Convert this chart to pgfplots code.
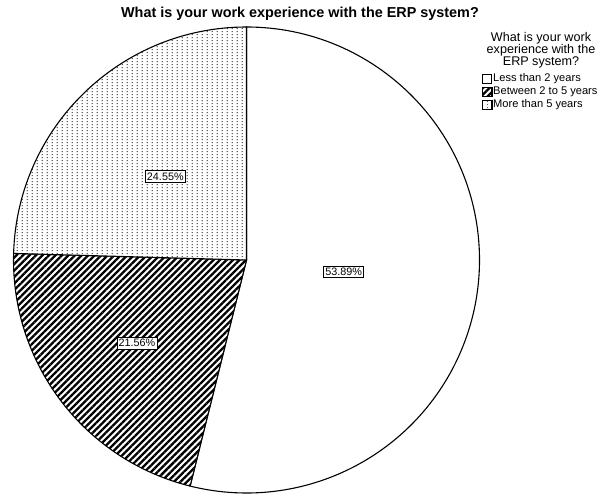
\documentclass[border=0pt]{standalone}
\usepackage{pgfplots}
\pgfplotsset{compat=1.18}
\usepackage{pgfplotstable}
\usepackage{fontspec}
\setmainfont{Liberation Sans}
\usetikzlibrary{patterns,patterns.meta}

% sparse grey dots, SPSS style
\pgfdeclarepatternformonly{spssdots}{\pgfpointorigin}{\pgfpoint{5pt}{3.1pt}}{\pgfpoint{5pt}{3.1pt}}%
  {\pgfpathrectangle{\pgfpoint{2pt}{1pt}}{\pgfpoint{1.3pt}{1.3pt}}\pgfusepath{fill}}

\tikzset{
  slice0/.style={fill=white},
  slice1/.style={preaction={fill=white}, pattern={Lines[angle=45,distance=4.6pt,line width=2.3pt]}},
  slice2/.style={preaction={fill=white}, pattern=spssdots, pattern color=black!62},
}

% value = percent, lab = label radius as fraction of pie radius
\pgfplotstableread{
label value lab
{Less than 2 years} 53.89 0.42
{Between 2 to 5 years} 21.56 0.59
{More than 5 years} 24.55 0.50
}\piedata

\begin{document}
\begin{tikzpicture}
\path[use as bounding box] (0,0) rectangle (601pt,493pt);
\begin{axis}[
    at={(0,0)}, anchor=south west,
    scale only axis,
    width=601pt, height=493pt,
    xmin=0, xmax=601, ymin=0, ymax=493,
    hide axis,
    clip=false,
    legend style={at={(axis cs:481.7,420)}, anchor=north west, draw=none, fill=none,
      font=\fontsize{11.1}{12}\selectfont, inner sep=0pt, row sep=1.8pt,
      nodes={inner xsep=1pt, inner ysep=0.5pt, text height=8pt, text depth=2.2pt},
      cells={anchor=west}},
    legend cell align=left,
  ]
  \def\cumul{0}
  \pgfplotsinvokeforeach{0,1,2}{
    \pgfplotstablegetelem{#1}{value}\of\piedata \let\pval\pgfplotsretval
    \pgfplotstablegetelem{#1}{lab}\of\piedata \let\plab\pgfplotsretval
    \pgfmathsetmacro\sa{90-3.6*\cumul}
    \pgfmathsetmacro\sb{90-3.6*(\cumul+\pval)}
    \pgfmathsetmacro\smid{(\sa+\sb)/2}
    \pgfmathsetmacro\lx{246.5+\plab*233*cos(\smid)}
    \pgfmathsetmacro\ly{233+\plab*233*sin(\smid)}
    \edef\doslice{%
      \noexpand\draw[slice#1, line width=1.1pt, draw=black]
        (axis cs:246.5,233) -- ++(\sa:233pt) arc[start angle=\sa, end angle=\sb, radius=233pt] -- cycle;
    }\doslice
    \edef\dolabel{%
      \noexpand\node[draw, fill=white, line width=0.8pt, inner xsep=1.6pt, inner ysep=2pt,
        font=\noexpand\fontsize{10.8}{12}\noexpand\selectfont]
        at (axis cs:\lx,\ly) {\pval\noexpand\%};
    }\dolabel
    \pgfmathsetmacro\newc{\cumul+\pval}\xdef\cumul{\newc}
  }

  \addlegendimage{legend image code/.code={\draw[slice0, line width=0.8pt] (0pt,-4.5pt) rectangle (9.5pt,4.5pt);}}
  \addlegendentry{Less than 2 years}
  \addlegendimage{legend image code/.code={\draw[slice1, line width=0.8pt] (0pt,-4.5pt) rectangle (9.5pt,4.5pt);}}
  \addlegendentry{Between 2 to 5 years}
  \addlegendimage{legend image code/.code={\draw[slice2, line width=0.8pt] (0pt,-4.5pt) rectangle (9.5pt,4.5pt);}}
  \addlegendentry{More than 5 years}

  \node[font=\bfseries\fontsize{14.4}{16}\selectfont] at (axis cs:300,479)
    {What is your work experience with the ERP system?};
  \node[align=center, font=\fontsize{12.6}{12}\selectfont] at (axis cs:541,443)
    {What is your work\\experience with the\\ERP system?};
\end{axis}
\end{tikzpicture}
\end{document}
